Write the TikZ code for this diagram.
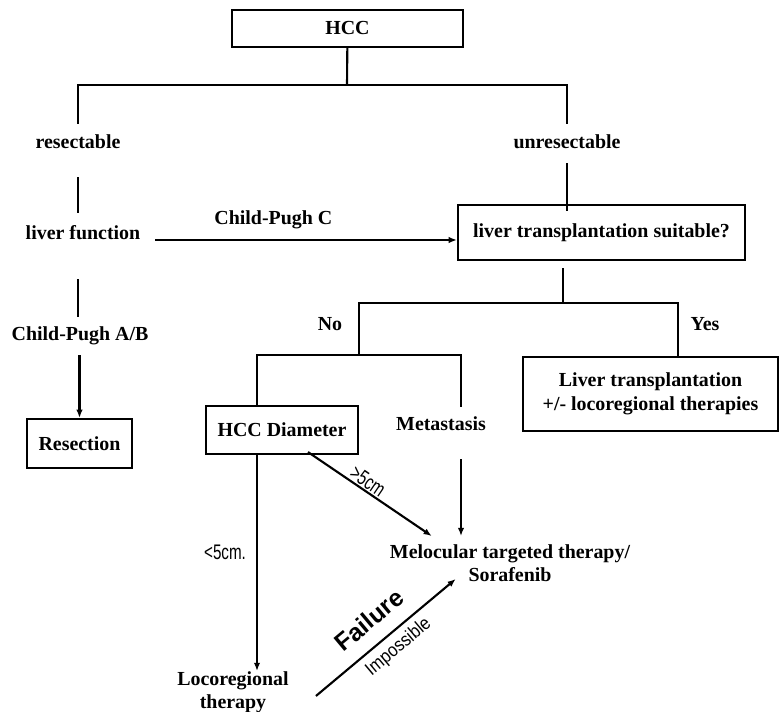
\documentclass[tikz,border=0pt]{standalone}
\usepackage{fontspec}
\setmainfont{Liberation Serif}
\newfontfamily\condsans[FakeStretch=0.72]{Liberation Sans}
\newfontfamily\narrowsans[FakeStretch=0.88]{Liberation Sans}
\newfontfamily\plainsans{Liberation Sans}
\usetikzlibrary{arrows.meta,positioning,calc}

\newcommand{\flowfont}{\fontsize{17}{20}\selectfont\bfseries}

\begin{document}
\begin{tikzpicture}[x=0.03cm, y=-0.03cm,
    box/.style={draw, line width=1.8pt, inner sep=0pt, font=\flowfont, align=center},
    lbl/.style={inner sep=0pt, font=\flowfont, align=center},
    cmlbl/.style={inner sep=0pt, font=\condsans\fontsize{18}{20}\selectfont},
    conn/.style={line width=1.8pt},
    connarr/.style={line width=1.8pt, -{Latex[length=7pt,width=5.5pt]}}]
    \useasboundingbox (0,0) rectangle (779,712);

    % boxes
    \node[box, minimum width=6.93cm, minimum height=1.11cm] (hcc) at (347.5,28.5) {HCC};
    \node[box, minimum width=8.61cm, minimum height=1.65cm] (lts) at (601.5,232.5) {liver transplantation suitable?};
    \node[box, minimum width=7.65cm, minimum height=2.22cm] (lt) at (650.5,394) {Liver transplantation\\+/- locoregional therapies};
    \node[box, minimum width=4.56cm, minimum height=1.44cm] (hccd) at (282,430) {HCC Diameter};
    \node[box, minimum width=3.15cm, minimum height=1.47cm] (res) at (79.5,443.5) {Resection};

    % plain labels
    \node[lbl] (resect) at (78,142) {resectable};
    \node[lbl] (unres) at (567,142) {unresectable};
    \node[lbl] (lf) at (83,233) {liver function};
    \node[lbl] (cpab) at (80,336) {Child-Pugh A/B};
    \node[lbl] (no) at (330,324) {No};
    \node[lbl] (yes) at (705,324) {Yes};
    \node[lbl] (meta) at (441,424) {Metastasis};
    \node[lbl] (mol) at (510,563) {Melocular targeted therapy/\\Sorafenib};
    \node[lbl] (loco) at (233,692) {Locoregional\\therapy};

    % resectable / unresectable
    \coordinate (split) at (347,85);
    \draw[conn] (hcc) -- (split);
    \draw[conn, shorten <=0.33cm, shorten >=0.33cm] (resect.north) |- (split) -| (unres.north);
    \draw[conn, shorten <=0.84cm, shorten >=0.39cm] (resect.south) -- (resect.south |- lf.north);
    \draw[conn, shorten <=0.42cm, shorten >=-0.21cm] (unres.south) -- (unres.south |- lts.north);
    \draw[connarr, shorten <=0.45cm] ([yshift=-0.21cm]lf.east) -- ([yshift=-0.21cm]lf.east -| lts.west)
        node[lbl, pos=.42, above=0.3cm] (cpc) {Child-Pugh C};
    \draw[conn, shorten <=1.17cm, shorten >=0.3cm] (resect.south |- lf.south) -- (resect.south |- cpab.north);
    \draw[connarr, shorten <=0.3cm] (res.north |- cpab.south) -- (res.north);

    % transplantation suitable?
    \coordinate (split2) at (563,303);
    \coordinate (nosplit) at (359,355);
    \draw[conn, shorten <=0.21cm] (split2 |- lts.south) -- (split2);
    \draw[conn] (nosplit) |- (split2) -| ([xshift=0.83cm]lt.north);
    \draw[conn, shorten >=0.3cm] ([xshift=-0.75cm]hccd.north) |- (nosplit) -| ([xshift=0.6cm]meta.north);

    % therapy choice
    \draw[connarr, shorten <=0.84cm, shorten >=0.24cm] ([xshift=0.6cm]meta.south) -- ([xshift=0.6cm]meta.south |- mol.north);
    \draw[connarr] ([shift={(26,-3)}]hccd.south) -- ([shift={(42,-8)}]mol.north west)
        node[cmlbl, pos=.44, sloped, above=1pt] {>5cm};
    \draw[connarr] ([xshift=-0.75cm]hccd.south) -- ([xshift=-0.75cm]hccd.south |- loco.north)
        node[cmlbl, pos=.45, left=0.3cm] {<5cm.};
    \draw[connarr] ([shift={(27,4)}]loco.east) -- ([shift={(66,-3)}]mol.south west)
        node[pos=.49, sloped, above=12pt, inner sep=0pt, font=\plainsans\bfseries\fontsize{21}{24}\selectfont] {Failure}
        node[pos=.52, sloped, below=5pt, inner sep=0pt, font=\narrowsans\fontsize{16}{18}\selectfont] {Impossible};
\end{tikzpicture}
\end{document}
